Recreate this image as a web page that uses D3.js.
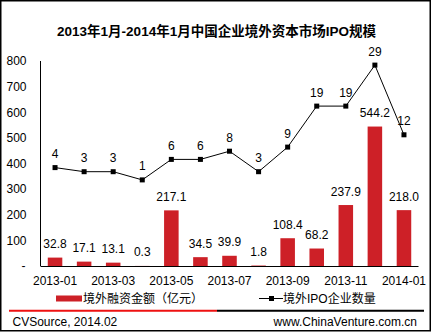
<!DOCTYPE html>
<html><head><meta charset="utf-8">
<script src="https://cdn.jsdelivr.net/npm/d3@7"></script>
<style>
body{margin:0;background:#fff;}
text{font-family:"Liberation Sans","Noto Sans CJK SC",Arial,sans-serif;}
</style></head>
<body><svg id="c" width="432" height="332"></svg>
<script>
const categories = ["2013-01","2013-02","2013-03","2013-04","2013-05","2013-06","2013-07","2013-08","2013-09","2013-10","2013-11","2013-12","2014-01"];
const amounts = [32.8,17.1,13.1,0.3,217.1,34.5,39.9,1.8,108.4,68.2,237.9,544.2,218.0];
const counts = [4,3,3,1,6,6,8,3,9,19,19,29,12];
const yTicks = [0,100,200,300,400,500,600,700,800];
const xTickLabels = ["2013-01","2013-03","2013-05","2013-07","2013-09","2013-11","2014-01"];
const title = "2013年1月-2014年1月中国企业境外资本市场IPO规模";
const barName = "境外融资金额（亿元）";
const lineName = "境外IPO企业数量";
const sourceText = "CVSource, 2014.02";
const siteText = "www.ChinaVenture.com.cn";

const svg = d3.select("#c");
const red = "#CD2027";
const L = 40.5, R = 418.5, T = 61, B = 266;

svg.append("rect").attr("x",0.75).attr("y",0.75).attr("width",429.5).attr("height",330)
  .attr("fill","none").attr("stroke","#000").attr("stroke-width",1.5);

svg.append("text").attr("x",216.5).attr("y",35.5).attr("text-anchor","middle")
  .attr("font-size","13.5px").attr("font-weight","bold").text(title);

const x = d3.scaleBand().domain(categories).range([L,R]).paddingInner(0.5).paddingOuter(0.25);
const y = d3.scaleLinear().domain([0,800]).range([B,T]);
const y2 = d3.scaleLinear().domain([-20,30]).range([B,T]);

// y axis
const yAx = svg.append("g").attr("transform",`translate(${L},0)`)
  .call(d3.axisLeft(y).tickValues(yTicks).tickSize(0).tickPadding(14)
    .tickFormat(d => d===0 ? "-" : d));
yAx.select(".domain").remove();
yAx.selectAll("text").attr("font-size","12px").attr("fill","#000")
  .attr("font-family","Liberation Sans, Arial, sans-serif");
yAx.selectAll(".tick").filter(d=>d===0).select("text").attr("dx",-1);
svg.append("line").attr("x1",L).attr("x2",L).attr("y1",T).attr("y2",B).attr("stroke","#000");

// bars
svg.append("g").selectAll("rect").data(amounts).join("rect")
  .attr("x",(d,i)=>x(categories[i])).attr("width",x.bandwidth())
  .attr("y",d=>y(d)).attr("height",d=>B-y(d)).attr("fill",red);

// x axis
const xAx = svg.append("g").attr("transform",`translate(0,${B})`)
  .call(d3.axisBottom(x).tickValues(xTickLabels).tickSize(0).tickPadding(10));
xAx.select(".domain").remove();
xAx.selectAll("text").attr("font-size","12px").attr("fill","#000")
  .attr("font-family","Liberation Sans, Arial, sans-serif");
svg.append("line").attr("x1",L).attr("x2",R).attr("y1",B+0.5).attr("y2",B+0.5).attr("stroke","#000");

// bar labels
svg.append("g").selectAll("text").data(amounts).join("text")
  .attr("x",(d,i)=>x(categories[i])+x.bandwidth()/2).attr("y",d=>y(d)-9.5)
  .attr("text-anchor","middle").attr("font-size","12px").text(d=>d.toFixed(1));

// line
const cx = (d,i)=>x(categories[i])+x.bandwidth()/2;
svg.append("path").datum(counts)
  .attr("d",d3.line().x(cx).y(d=>y2(d)))
  .attr("fill","none").attr("stroke","#000").attr("stroke-width",1);
svg.append("g").selectAll("rect").data(counts).join("rect")
  .attr("x",(d,i)=>cx(d,i)-2.5).attr("y",d=>y2(d)-2.5).attr("width",5).attr("height",5).attr("fill","#000");
svg.append("g").selectAll("text").data(counts).join("text")
  .attr("x",cx).attr("y",d=>y2(d)-9.5).attr("text-anchor","middle").attr("font-size","12px").text(d=>d);

// legend
svg.append("rect").attr("x",56).attr("y",295.5).attr("width",26).attr("height",6).attr("fill",red);
svg.append("text").attr("x",83).attr("y",302.5).attr("font-size","12px").text(barName);
svg.append("line").attr("x1",259).attr("x2",283).attr("y1",298.5).attr("y2",298.5).attr("stroke","#000");
svg.append("rect").attr("x",269).attr("y",296).attr("width",5).attr("height",5).attr("fill","#000");
svg.append("text").attr("x",283).attr("y",302.5).attr("font-size","12px").text(lineName);

// separator
svg.append("line").attr("x1",9).attr("x2",217).attr("y1",310.7).attr("y2",310.7).attr("stroke","#EE1111").attr("stroke-width",2);
svg.append("line").attr("x1",217).attr("x2",424).attr("y1",310.7).attr("y2",310.7).attr("stroke","#000").attr("stroke-width",2);

// footer
svg.append("text").attr("x",12.5).attr("y",326).attr("font-size","12px").text(sourceText);
svg.append("text").attr("x",417).attr("y",326).attr("text-anchor","end").attr("font-size","12px").text(siteText);
</script></body></html>
